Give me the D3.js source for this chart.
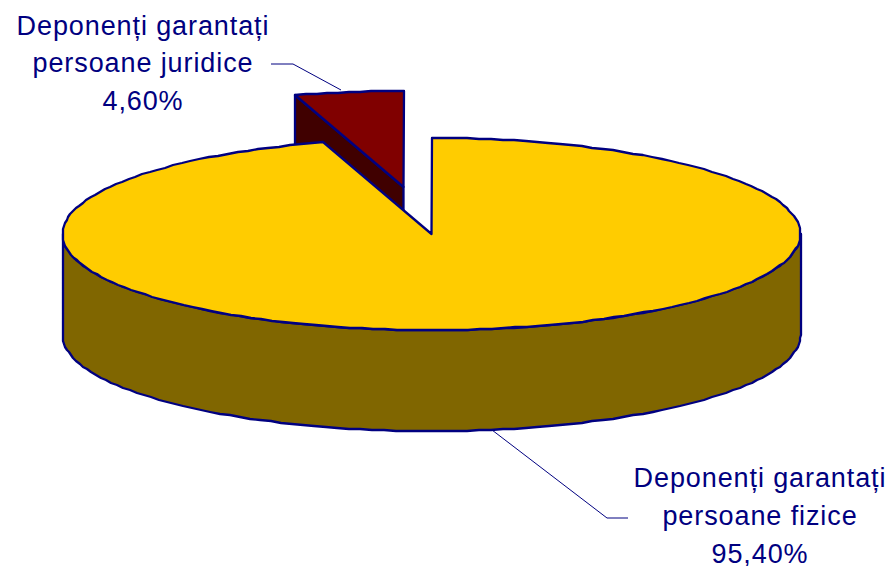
<!DOCTYPE html>
<html><head><meta charset="utf-8">
<script src="https://cdn.jsdelivr.net/npm/d3@7"></script>
<style>html,body{margin:0;padding:0;background:#fff}svg{display:block}</style>
</head><body><svg id="c" width="887" height="566"></svg>
<script>
const categories = ["Deponenți garantați persoane fizice", "Deponenți garantați persoane juridice"];
const values = [95.4, 4.6];
const valueLabels = ["95,40%", "4,60%"];
const labelLines = [["Deponenți garantați","persoane fizice"],["Deponenți garantați","persoane juridice"]];
const faceColors = ["#FFCC00", "#800000"];
const wallColors = ["#806600", "#400000"];
const ink = "#000080";

const W = 887, H = 566;
const cx = 431.5, cy = 234, rx = 369, ry = 96, depth = 101;
const explode = [{dx:0,dy:0},{dx:-28,dy:-47}];
const labelPos = [{x:760,y:487},{x:143,y:34.5}];
const leaders = [[[492,430],[607,518],[628,518]],[[271,64],[293,64],[341,90]]];

const svg = d3.select("#c");
const arcs = d3.pie().sort(null).startAngle(0).endAngle(2*Math.PI)(values);
const px = d3.scaleLinear().domain([-1,1]).range([cx-rx,cx+rx]);
const py = d3.scaleLinear().domain([-1,1]).range([cy-ry,cy+ry]);
const skew = a => a + 0.015*Math.sin(2*a);
const rim = (a,o,z=0)=>[Math.round(px(Math.sin(skew(a))))+o.dx, Math.round(py(-Math.cos(skew(a))))+o.dy+z];
const STEP = Math.PI/100;
function rimPts(a0,a1,o,z=0){
  const n = Math.max(1,Math.ceil((a1-a0)/STEP)), out=[];
  for(let i=0;i<=n;i++) out.push(rim(a0+(a1-a0)*i/n,o,z));
  return out;
}
const line = d3.line();
const style = s=>s.attr("stroke",ink).attr("stroke-width",2.3).attr("stroke-linejoin","round");

const small = arcs[1], so = explode[1];
const apexS = [cx+so.dx, cy+so.dy];
const wedgeEdge = rim(small.startAngle,so);
const wall = [wedgeEdge,apexS,[apexS[0],apexS[1]+depth],[wedgeEdge[0],wedgeEdge[1]+depth]];
svg.append("path").attr("d",line(wall)+"Z").attr("fill",wallColors[1]).call(style);
svg.append("path").attr("d",line([apexS,...rimPts(small.startAngle,small.endAngle,so)])+"Z").attr("fill",faceColors[1]).call(style);

const big = arcs[0], bo = explode[0];
const front = rimPts(Math.PI/2,3*Math.PI/2,bo);
const frontLow = rimPts(Math.PI/2,3*Math.PI/2,bo,depth).reverse();
svg.append("path").attr("d",line([...front,...frontLow])+"Z").attr("fill",wallColors[0]).call(style);
const apexB = [cx,cy];
svg.append("path").attr("d",line([apexB,...rimPts(big.startAngle,big.endAngle,bo)])+"Z").attr("fill",faceColors[0]).call(style);

svg.selectAll("path.leader").data(leaders).join("path").attr("class","leader")
  .attr("d",d=>line(d)).attr("fill","none").attr("stroke",ink).attr("stroke-width",1);

labelLines.forEach((ls,i)=>{
  const t = svg.append("text").attr("text-anchor","middle")
    .attr("font-family","'Liberation Sans',Arial,sans-serif").attr("font-size",27)
    .attr("letter-spacing",0.9).attr("fill",ink);
  [...ls,valueLabels[i]].forEach((s,j)=>{
    t.append("tspan").attr("x",labelPos[i].x).attr("y",labelPos[i].y+j*37.8).text(s);
  });
});
</script></body></html>
